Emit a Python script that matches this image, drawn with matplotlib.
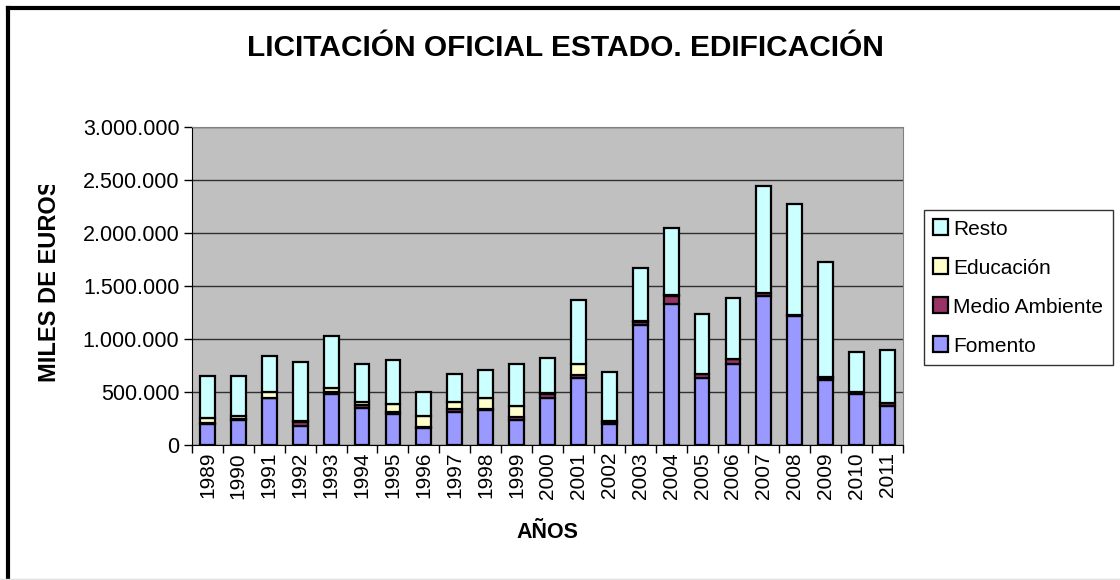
import matplotlib
matplotlib.use("Agg")
import matplotlib.pyplot as plt
import numpy as np
from matplotlib.patches import Patch
from matplotlib.ticker import FuncFormatter, FixedLocator
from matplotlib.transforms import Bbox

plt.rcParams['font.family'] = ['Liberation Sans', 'DejaVu Sans']

years = [str(y) for y in range(1989, 2012)]

# miles de euros
fomento = [195000, 236000, 440000, 179000, 481000, 346000, 289000, 164000, 308000, 330000, 236000, 446000,
           635000, 198000, 1129000, 1330000, 632000, 764000, 1406000, 1220000, 613000, 481000, 371000]
medio_ambiente = [10000, 10000, 5000, 41000, 22000, 31000, 25000, 5000, 28000, 5000, 31000, 35000,
                  25000, 22000, 35000, 76000, 38000, 44000, 25000, 8000, 22000, 19000, 22000]
educacion = [47000, 28000, 58000, 5000, 32000, 32000, 73000, 105000, 73000, 105000, 101000, 5000,
             104000, 3000, 5000, 5000, 3000, 3000, 3000, 3000, 3000, 3000, 3000]
resto = [399000, 377000, 340000, 558000, 496000, 358000, 415000, 229000, 264000, 268000, 396000, 335000,
         604000, 466000, 501000, 633000, 563000, 579000, 1012000, 1043000, 1091000, 371000, 500000]

series = [("Fomento", fomento, "#9999FF"),
          ("Medio Ambiente", medio_ambiente, "#993366"),
          ("Educación", educacion, "#FFFFCC"),
          ("Resto", resto, "#CCFFFF")]

W, H = 1120, 580
fig = plt.figure(figsize=(W / 100, H / 100), dpi=100)
ax = fig.add_axes([192 / W, 1 - 445 / H, 711 / W, 318 / H])
ax.set_facecolor("#C0C0C0")

x = np.arange(len(years))
bottom = np.zeros(len(years))
for name, vals, color in series:
    ax.bar(x, vals, width=0.48, bottom=bottom, color=color, edgecolor="black",
           linewidth=1.6, label=name, zorder=3)
    bottom += np.array(vals)

ax.set_xlim(-0.5, len(years) - 0.5)
ax.set_ylim(0, 3000000)
ax.set_yticks(np.arange(0, 3000001, 500000))
ax.yaxis.set_major_formatter(FuncFormatter(lambda v, p: f"{int(v):,}".replace(",", ".")))
ax.grid(axis="y", color="#303030", linewidth=1, zorder=1)

ax.set_xticks(x)
ax.set_xticklabels(years, rotation=90)
ax.xaxis.set_minor_locator(FixedLocator(np.arange(-0.5, len(years), 1)))
ax.tick_params(axis="x", which="major", length=0, pad=5, labelsize=15)
ax.tick_params(axis="x", which="minor", length=6, width=1, color="black")
ax.tick_params(axis="y", length=6, width=1, labelsize=15.5, pad=3)

for s in ["top", "right"]:
    ax.spines[s].set_color("#808080")
ax.spines["left"].set_color("black")
ax.spines["bottom"].set_color("black")

fig.text(565 / W, 1 - 48 / H, "LICITACIÓN OFICIAL ESTADO. EDIFICACIÓN", ha="center", va="center",
         fontsize=21.5, fontweight="bold")
fig.text(547 / W, 1 - 532 / H, "AÑOS", ha="center", va="center", fontsize=15.5, fontweight="bold")
ylab = fig.text(50 / W, 1 - 382 / H, "MILES DE EUROS", ha="center", va="bottom", rotation=90,
                fontsize=17, fontweight="bold")
ylab.set_clip_on(True)
ylab.set_clip_box(Bbox.from_extents(0, 0, 120, H - 185))

handles = [Patch(facecolor=c, edgecolor="black", linewidth=1.6, label=n) for n, v, c in series[::-1]]
leg = fig.legend(handles=handles, loc="upper left", bbox_to_anchor=(924 / W, 1 - 210 / H),
                 frameon=True, fancybox=False, fontsize=15, handlelength=0.7, handleheight=0.8,
                 handletextpad=0.25, labelspacing=0.95, borderpad=0.45, borderaxespad=0)
leg.get_frame().set_edgecolor("black")
leg.get_frame().set_linewidth(1)

# chart frame (only top and left visible in the original)
fig.add_artist(plt.Line2D([8 / W, 8 / W], [0, 1 - 8 / H], color="black", linewidth=3))
fig.add_artist(plt.Line2D([8 / W, 1], [1 - 8 / H, 1 - 8 / H], color="black", linewidth=3))
fig.add_artist(plt.Line2D([0, 1], [1 / H, 1 / H], color="#E0E0E0", linewidth=1))

fig.savefig("out.png", dpi=100)
